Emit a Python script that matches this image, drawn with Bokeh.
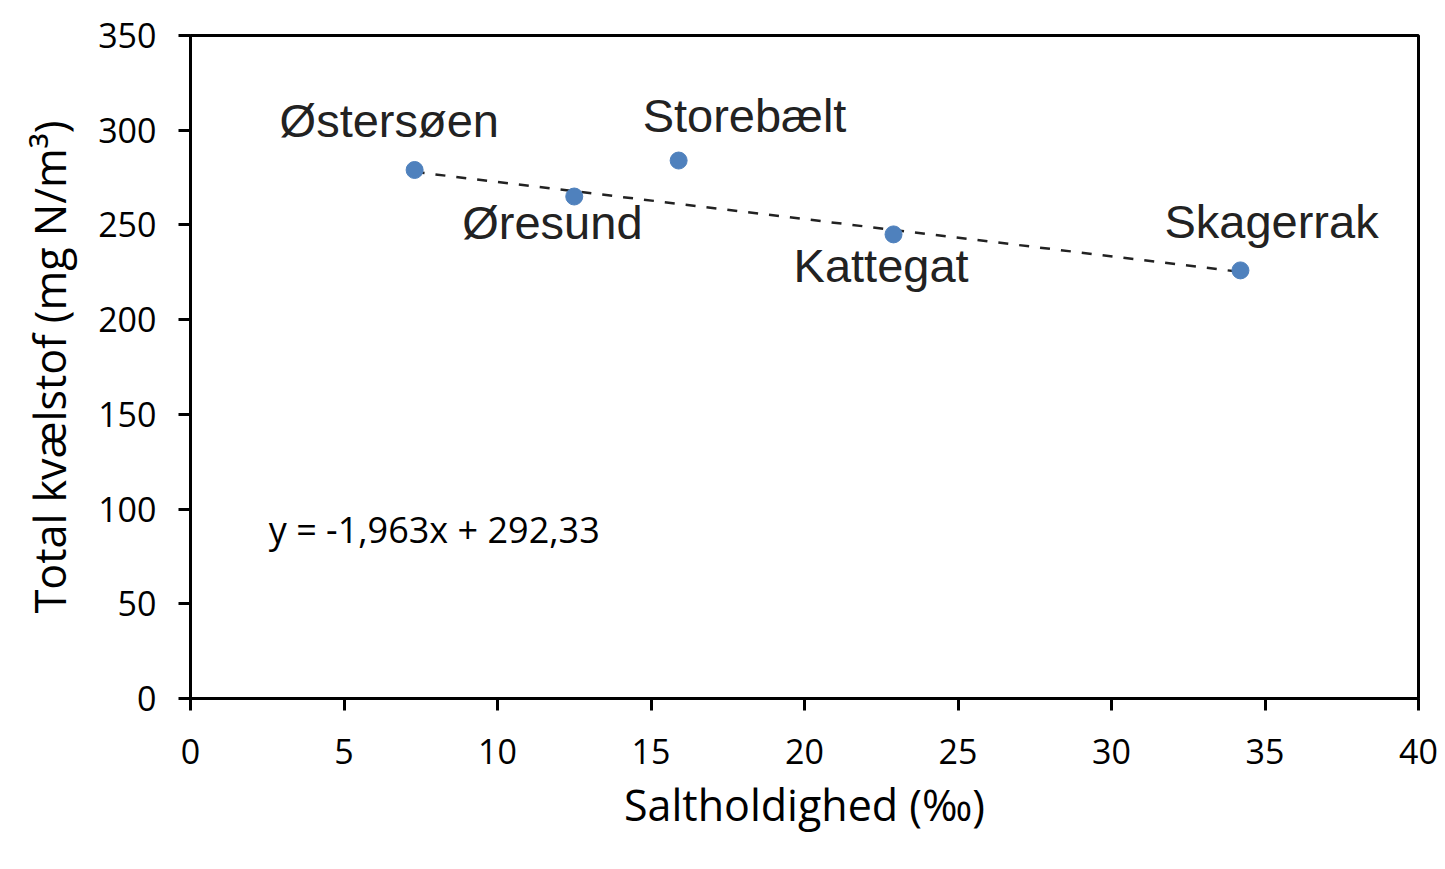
import numpy as np
from bokeh.plotting import figure
from bokeh.models import ColumnDataSource, Range1d, Label, FixedTicker
from bokeh.core.properties import value
from bokeh.embed import file_html
from bokeh.resources import INLINE

# ---- data ----
stations = ["Østersøen", "Øresund", "Storebælt", "Kattegat", "Skagerrak"]
salinity = [7.3, 12.5, 15.9, 22.9, 34.2]          # ‰
total_n = [279, 265, 284, 245, 226]                # mg N/m3
trend_slope = -1.963
trend_intercept = 292.33
x_ticks = [0, 5, 10, 15, 20, 25, 30, 35, 40]
y_ticks = [0, 50, 100, 150, 200, 250, 300, 350]

# label placement (screen offsets from each point, px)
label_dx = [-135, -112, -36, -100, -76]
label_dy = [-49, 26, -45, 31, -49]

p = figure(width=1440, height=864, output_backend="svg", toolbar_location=None,
           x_range=Range1d(0, 40), y_range=Range1d(0, 350),
           min_border_left=190, min_border_right=22, min_border_top=35, min_border_bottom=166)
p.background_fill_color = "white"
p.border_fill_color = "white"
p.outline_line_color = "black"
p.outline_line_width = 3
p.xgrid.visible = False
p.ygrid.visible = False

FONT = "Open Sans"
for ax in (p.xaxis[0], p.yaxis[0]):
    ax.axis_line_width = 3
    ax.axis_line_color = "black"
    ax.major_tick_line_width = 3
    ax.major_tick_line_color = "black"
    ax.major_tick_out = 12
    ax.major_tick_in = 0
    ax.minor_tick_line_color = None
    ax.major_label_text_font = FONT
    ax.major_label_text_font_size = "34px"
    ax.major_label_text_color = "black"
    ax.axis_label_text_font = FONT
    ax.axis_label_text_font_size = "43px"
    ax.axis_label_text_font_style = "normal"
    ax.axis_label_text_color = "black"

p.xaxis.ticker = FixedTicker(ticks=x_ticks)
p.yaxis.ticker = FixedTicker(ticks=y_ticks)
p.xaxis.major_label_standoff = 28
p.yaxis.major_label_standoff = 22
p.xaxis.axis_label = "Saltholdighed (‰)"
p.yaxis.axis_label = "Total kvælstof (mg N/m³)"
p.xaxis.axis_label_standoff = 8
p.yaxis.axis_label_standoff = 16

# trend line (from the regression equation, across data range)
tx = np.array([min(salinity), max(salinity)])
ty = trend_slope * tx + trend_intercept
p.line(tx, ty, line_color="#222222", line_width=2.5, line_dash="10 11")

src = ColumnDataSource(dict(x=salinity, y=total_n, name=stations, dx=label_dx, dy=label_dy))
p.scatter("x", "y", source=src, size=17, fill_color="#4F81BD", line_color="#4F81BD")

p.text("x", "y", text="name", source=src, x_offset="dx", y_offset="dy",
       text_font=value("Liberation Sans"), text_font_size="47px", text_color="#222222",
       text_align="left", text_baseline="alphabetic")

eq = Label(x=2.55, y=89, text=f"y = {trend_slope:.3f}x + {trend_intercept:.2f}".replace(".", ","),
           text_font=FONT, text_font_size="36px", text_color="black",
           text_align="left", text_baseline="middle")
p.add_layout(eq)

open("out.html", "w").write(file_html(p, INLINE))
